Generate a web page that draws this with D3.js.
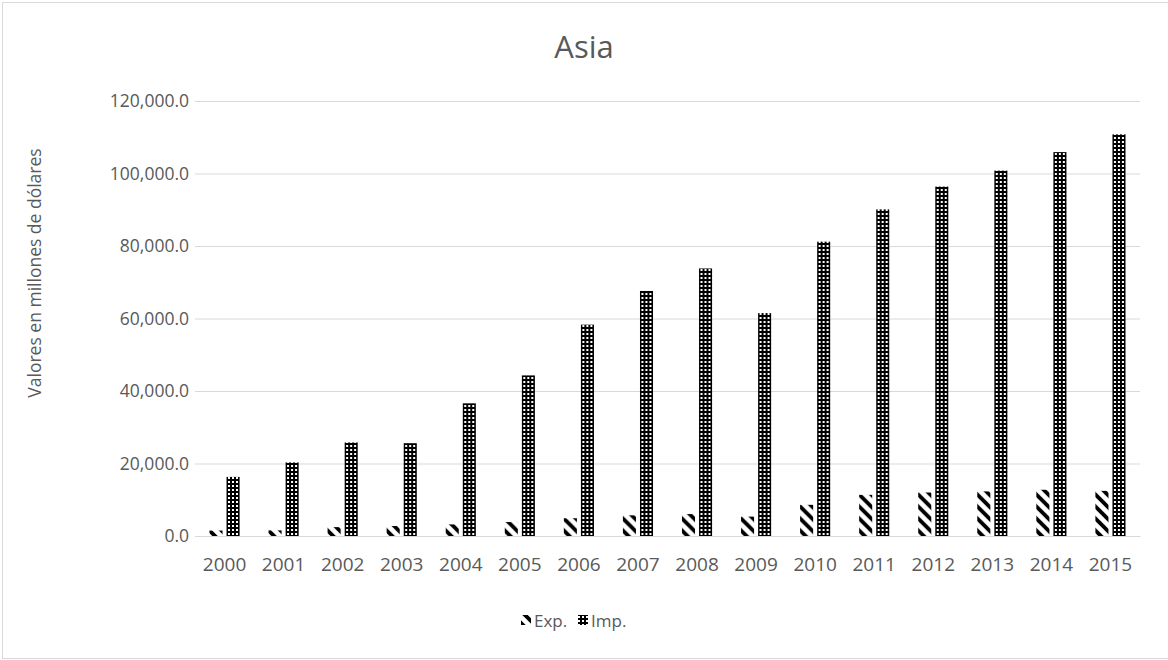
<!DOCTYPE html>
<html>
<head>
<meta charset="utf-8">
<script src="https://cdn.jsdelivr.net/npm/d3@7"></script>
<style>
  html, body { margin: 0; padding: 0; background: #fff; }
  svg { display: block; }
  text { font-family: "Open Sans", "Liberation Sans", sans-serif; fill: #595959; }
</style>
</head>
<body>
<svg id="chart" width="1168" height="660"></svg>
<script>
const years = ["2000","2001","2002","2003","2004","2005","2006","2007","2008","2009","2010","2011","2012","2013","2014","2015"];
const expValues = [1500, 1550, 2450, 2750, 3200, 3850, 4900, 5700, 6050, 5350, 8600, 11350, 12000, 12300, 12750, 12450];
const impValues = [16300, 20300, 25800, 25600, 36600, 44300, 58300, 67600, 73800, 61500, 81200, 90100, 96400, 100800, 105900, 110800];
const seriesNames = ["Exp.", "Imp."];
const yTicks = [0, 20000, 40000, 60000, 80000, 100000, 120000];
const titleText = "Asia";
const yLabel = "Valores en millones de dólares";

const svg = d3.select("#chart");
const W = 1168, H = 660;
const plot = { left: 195, right: 1140, top: 101, bottom: 536 };

// chart border
svg.append("rect").attr("x", 2.5).attr("y", 2.5).attr("width", W + 10).attr("height", 656)
  .attr("fill", "#fff").attr("stroke", "#d9d9d9").attr("stroke-width", 1);

// patterns
const defs = svg.append("defs");
const pExp = defs.append("pattern").attr("id", "patExp").attr("patternUnits", "userSpaceOnUse")
  .attr("width", 12).attr("height", 12);
pExp.append("rect").attr("width", 12).attr("height", 12).attr("fill", "#fff");
pExp.append("path").attr("d", "M-3,-3 L15,15 M-3,9 L3,15 M9,-3 L15,3")
  .attr("stroke", "#000").attr("stroke-width", 3.8);

const pImp = defs.append("pattern").attr("id", "patImp").attr("patternUnits", "userSpaceOnUse")
  .attr("width", 4).attr("height", 4);
pImp.append("rect").attr("width", 4).attr("height", 4).attr("fill", "#000");
pImp.append("rect").attr("x", 1).attr("y", 1).attr("width", 2).attr("height", 2).attr("fill", "#fff");

const fills = { "Exp.": "url(#patExp)", "Imp.": "url(#patImp)" };

const x0 = d3.scaleBand().domain(years).range([plot.left, plot.right]).paddingInner(0).paddingOuter(0);
const bw = x0.bandwidth();
const x1 = d3.scaleBand().domain(seriesNames).range([bw * 0.245, bw * 0.755]).paddingInner(0.2353);
const y = d3.scaleLinear().domain([0, 120000]).range([plot.bottom, plot.top]);

// gridlines
const yAxis = d3.axisLeft(y).tickValues(yTicks).tickSize(-(plot.right - plot.left))
  .tickPadding(6).tickFormat(d => d3.format(",.1f")(d));
const gy = svg.append("g").attr("transform", `translate(${plot.left},0)`).call(yAxis);
gy.select(".domain").remove();
gy.selectAll(".tick line").attr("stroke", "#d9d9d9").attr("stroke-width", 1);
gy.selectAll(".tick text").attr("font-size", 17.5).style("fill", "#595959")
  .attr("font-family", "'Open Sans', sans-serif");

// bars
const data = years.map((yr, i) => ({ year: yr, vals: [
  { s: "Exp.", v: expValues[i] }, { s: "Imp.", v: impValues[i] } ] }));
const groups = svg.append("g").selectAll("g").data(data).join("g")
  .attr("transform", d => `translate(${x0(d.year)},0)`);
groups.selectAll("rect").data(d => d.vals).join("rect")
  .attr("x", d => x1(d.s)).attr("width", x1.bandwidth())
  .attr("y", d => y(d.v)).attr("height", d => y(0) - y(d.v))
  .attr("fill", d => fills[d.s]);

// x axis
const xAxis = d3.axisBottom(x0).tickSize(0).tickPadding(22);
const gx = svg.append("g").attr("transform", `translate(0,${plot.bottom})`).call(xAxis);
gx.select(".domain").attr("stroke", "#d9d9d9");
gx.selectAll(".tick text").attr("font-size", 19).style("fill", "#595959")
  .attr("font-family", "'Open Sans', sans-serif");

// title
svg.append("text").attr("x", 584).attr("y", 58).attr("text-anchor", "middle")
  .attr("font-size", 31).text(titleText);

// y label
svg.append("text").attr("transform", `translate(41,273) rotate(-90)`).attr("text-anchor", "middle")
  .attr("font-size", 17.5).text(yLabel);

// legend
const legend = svg.append("g").attr("transform", "translate(521,611)");
const items = [{ s: "Exp.", x: 0 }, { s: "Imp.", x: 57 }];
items.forEach(it => {
  legend.append("rect").attr("x", it.x).attr("y", 4).attr("width", 10).attr("height", 10)
    .attr("fill", fills[it.s]);
  legend.append("text").attr("x", it.x + 13).attr("y", 16).attr("font-size", 17).text(it.s);
});
</script>
</body>
</html>
